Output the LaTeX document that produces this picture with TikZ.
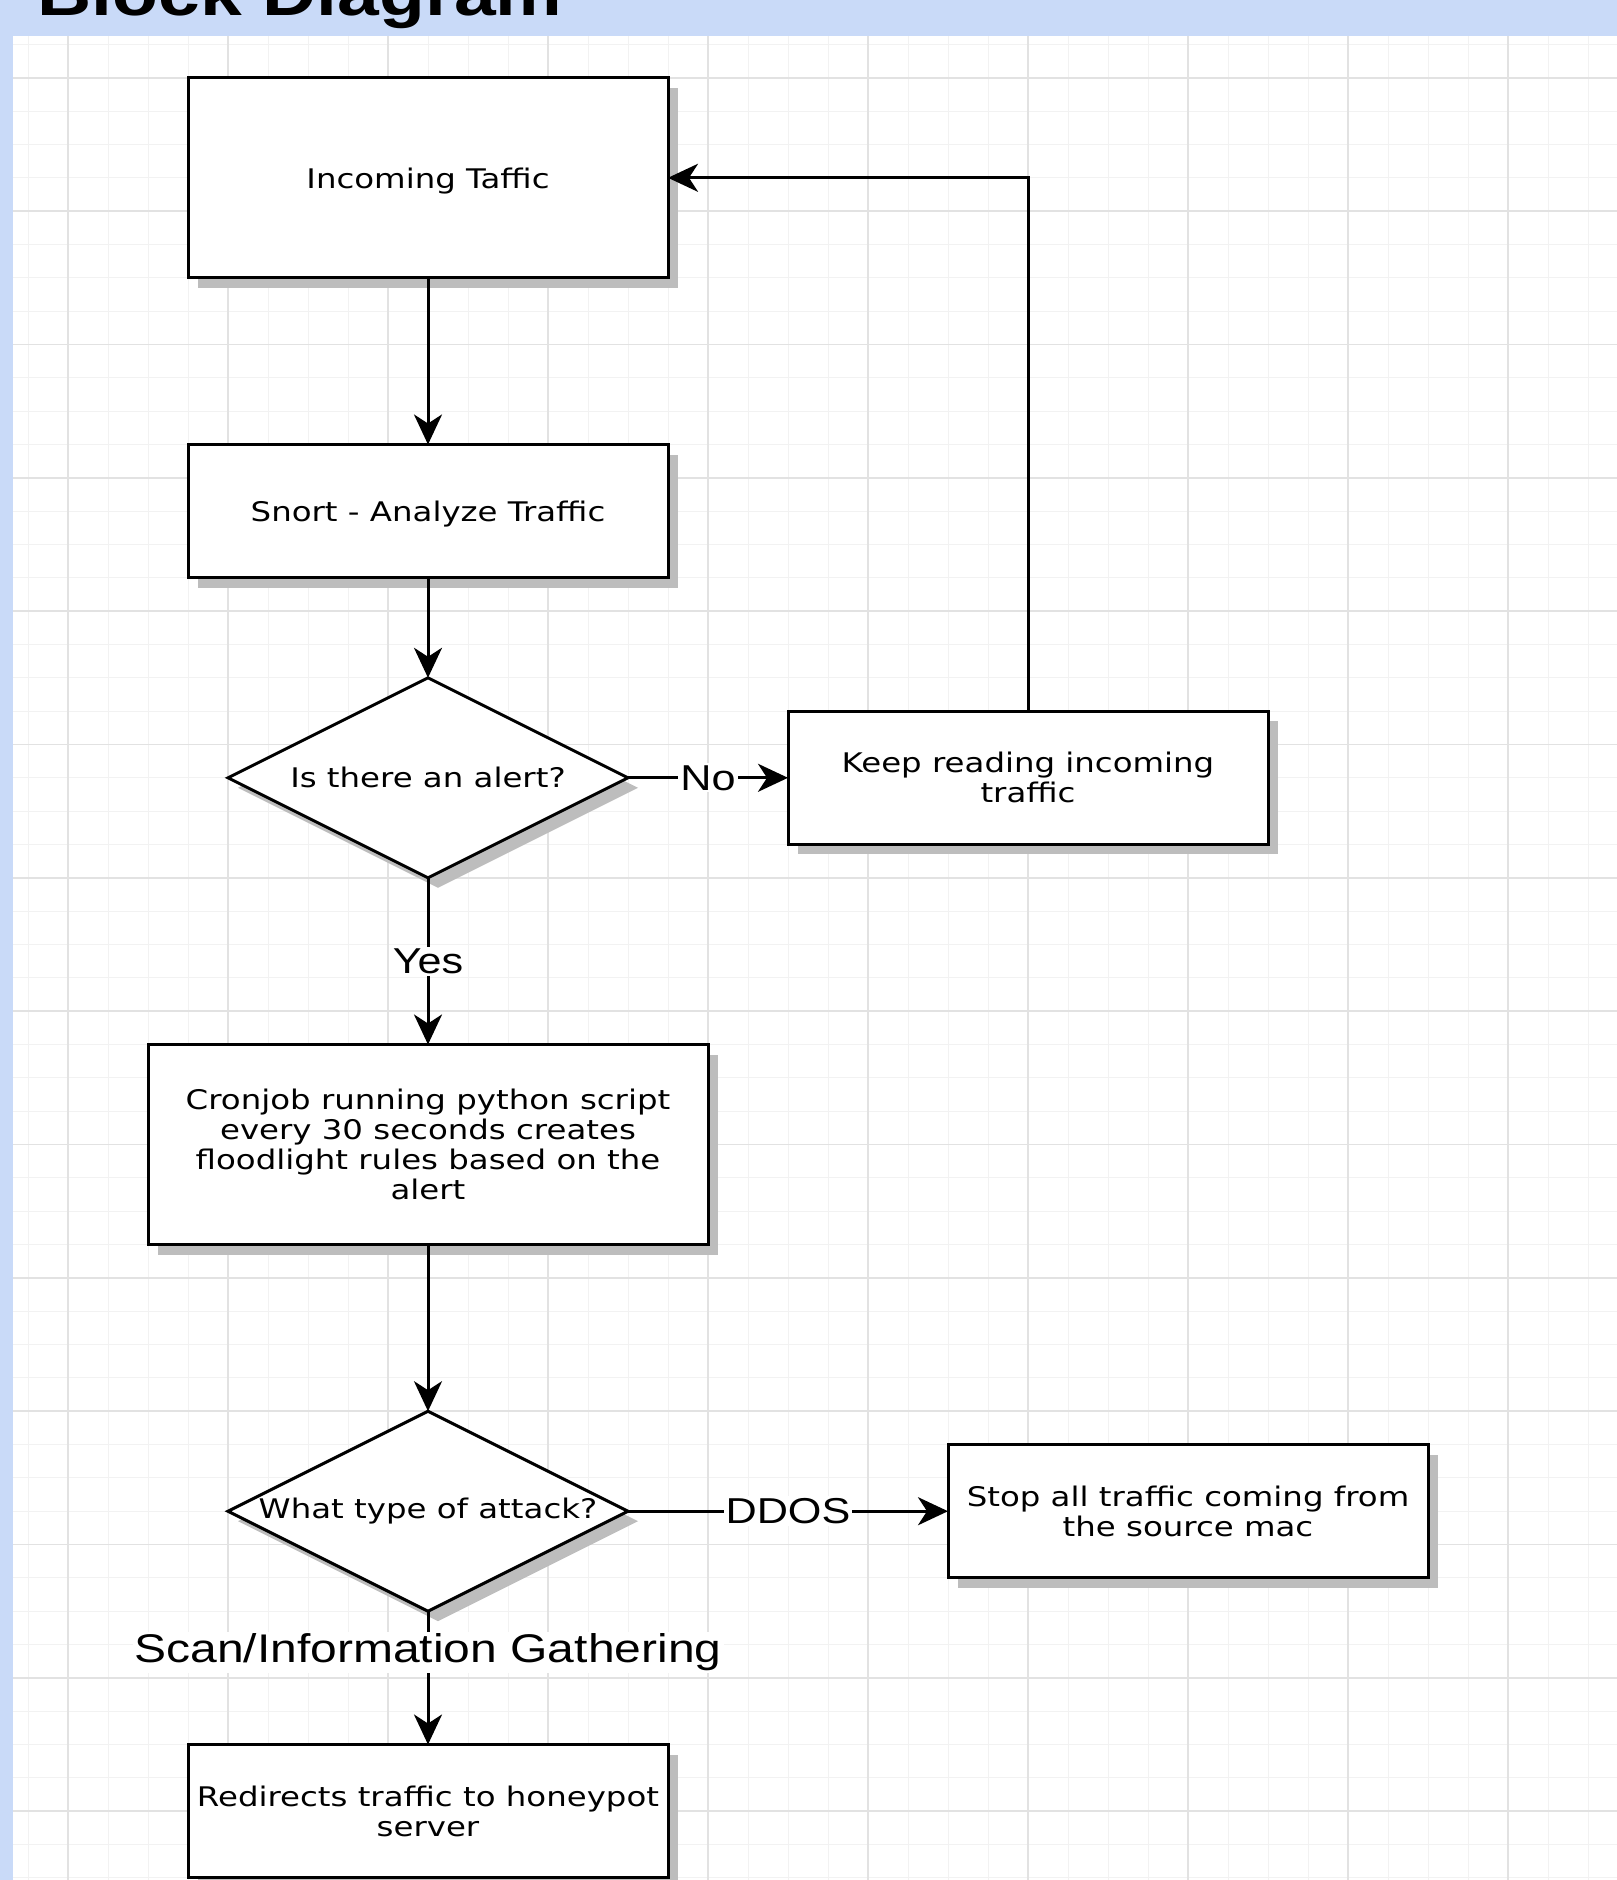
\documentclass[tikz,border=0pt]{standalone}
\usepackage{fontspec}
\usetikzlibrary{positioning,shapes.geometric,shadows,arrows.meta}

\newfontfamily\blockfont[FakeStretch=1.2]{DejaVu Sans}
\newfontfamily\tagfont[FakeStretch=1.2]{Liberation Sans}

\definecolor{bandblue}{HTML}{C9DAF8}
\definecolor{minorgrid}{HTML}{F2F2F2}
\definecolor{majorgrid}{HTML}{E2E2E2}
\definecolor{shadowgray}{HTML}{BDBDBD}

\tikzset{
  block/.style={draw, line width=3pt, fill=white, rectangle, minimum width=480pt,
    minimum height=133.3pt, inner sep=0pt, outer sep=0pt, align=center,
    font=\blockfont\fontsize{27}{30}\selectfont,
    drop shadow={shadow xshift=10pt, shadow yshift=-10pt, fill=shadowgray, opacity=1}},
  decision/.style={draw, line width=3pt, fill=white, diamond, aspect=2, minimum width=400pt,
    minimum height=200pt, inner sep=0pt, outer sep=0pt,
    drop shadow={shadow xshift=10pt, shadow yshift=-10pt, fill=shadowgray, opacity=1}},
  decision_text/.style={font=\blockfont\fontsize{27}{30}\selectfont},
  edge_label/.style={fill=white, inner sep=2pt, font=\tagfont\fontsize{36}{36}\selectfont},
  flow/.style={->, line width=3pt},
}

\begin{document}
\begin{tikzpicture}[x=1pt, y=-1pt, >={Stealth[length=30pt,width=28pt,inset=9pt]}]
  \useasboundingbox (0,0) rectangle (1617,1880);
  \clip (0,0) rectangle (1617,1880);

  % page and grid
  \fill[bandblue] (0,0) rectangle (1617,1880);
  \fill[white] (13,36) rectangle (1617,1880);
  \foreach \i in {0,...,39} \draw[minorgrid, line width=1pt] ({28+40*\i},36) -- ({28+40*\i},1880);
  \foreach \j in {0,...,55} \draw[minorgrid, line width=1pt] (13,{44.44+33.333*\j}) -- (1617,{44.44+33.333*\j});
  \foreach \i in {0,...,9} \draw[majorgrid, line width=1.5pt] ({68+160*\i},36) -- ({68+160*\i},1880);
  \foreach \j in {0,...,13} \draw[majorgrid, line width=1.5pt] (13,{77.78+133.333*\j}) -- (1617,{77.78+133.333*\j});

  \node[anchor=base west, font=\tagfont\bfseries\fontsize{62.5}{62.5}\selectfont] (title) at (34,15) {Block Diagram};

  % flow
  \node[block, minimum height=200pt, text depth=0pt] (incoming) at (428,177.8) {Incoming Taffic};
  \node[block, text depth=0pt] (snort) [below=166.7pt of incoming] {Snort - Analyze Traffic};
  \node[decision, label={[decision_text]center:Is there an alert?}] (alert) [below=100pt of snort] {};
  \node[block] (keep) [right=160pt of alert] {Keep reading incoming\\traffic};
  \node[block, minimum width=560pt, minimum height=200pt] (cron) [below=166.7pt of alert]
    {Cronjob running python script\\every 30 seconds creates\\floodlight rules based on the\\alert};
  \node[decision, label={[decision_text]center:What type of attack?}] (attack) [below=166.7pt of cron] {};
  \node[block] (stop) [right=320pt of attack] {Stop all traffic coming from\\the source mac};
  \node[block] (redirect) [below=133.3pt of attack] {Redirects traffic to honeypot\\server};

  \draw[flow] (incoming) -- (snort);
  \draw[flow] (snort) -- (alert);
  \draw[flow] (alert) -- node[edge_label] {No} (keep);
  \draw[flow] (keep) |- (incoming);
  \draw[flow] (alert) -- node[edge_label] {Yes} (cron);
  \draw[flow] (cron) -- (attack);
  \draw[flow] (attack) -- node[edge_label] {DDOS} (stop);
  \draw[flow] (attack) -- node[edge_label, pos=0.31, font=\tagfont\fontsize{40}{40}\selectfont] {Scan/Information Gathering} (redirect);
\end{tikzpicture}
\end{document}
